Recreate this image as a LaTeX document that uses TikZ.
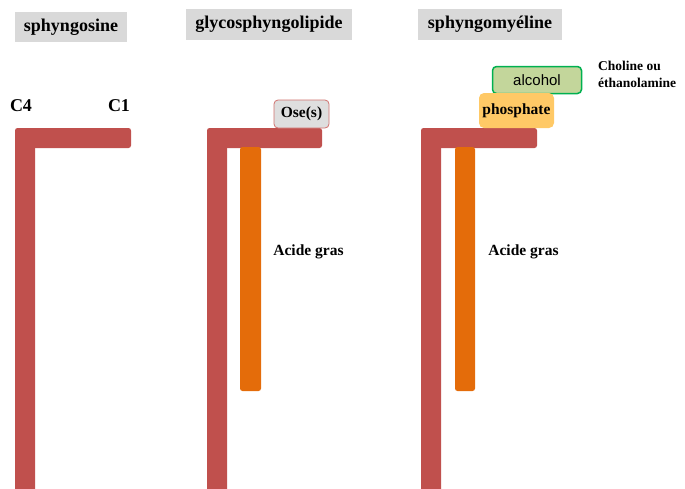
\documentclass[tikz,border=0pt]{standalone}
\usepackage{fontspec}
\setmainfont{Liberation Serif}
\newfontfamily\arialfont{Liberation Sans}
\definecolor{barred}{HTML}{C0504D}
\definecolor{barorange}{HTML}{E46C0A}
\definecolor{titlegray}{HTML}{D9D9D9}
\definecolor{osegray}{HTML}{DEDEDE}
\definecolor{oseborder}{HTML}{D0706D}
\definecolor{phosfill}{HTML}{FFC966}
\definecolor{alcfill}{HTML}{C3D69B}
\definecolor{alcborder}{HTML}{00B050}
\tikzset{
  titlebox/.style={fill=titlegray, inner sep=0pt, font=\fontsize{18}{20}\selectfont\bfseries},
  lbl/.style={inner sep=0pt, font=\fontsize{18}{20}\selectfont\bfseries},
  acid/.style={inner sep=0pt, font=\fontsize{15.5}{18}\selectfont\bfseries},
  redbar/.style={fill=barred, rounded corners=2.5pt},
  orangebar/.style={fill=barorange, rounded corners=2.5pt},
}
\begin{document}
\begin{tikzpicture}[x=1pt,y=-1pt]
\useasboundingbox (0,0) rectangle (685,488);
% titles
\node[titlebox, minimum width=112pt, minimum height=30pt] (t1) at (71,27) {sphyngosine};
\node[titlebox, minimum width=166pt, minimum height=31pt] (t2) at (269,24.5) {glycosphyngolipide};
\node[titlebox, minimum width=144pt, minimum height=31pt] (t3) at (490,24.5) {sphyngomyéline};
% L shapes
\fill[redbar] (15,128) rectangle (131,148);
\fill[redbar] (15,130) rectangle (35,495);
\fill[redbar] (207,128) rectangle (322,148);
\fill[redbar] (207,130) rectangle (227,495);
\fill[redbar] (421,128) rectangle (537,148);
\fill[redbar] (421,130) rectangle (441,495);
% orange bars
\fill[orangebar] (240,147) rectangle (261,391);
\fill[orangebar] (455,147) rectangle (475,391);
% labels
\node[lbl] (c4) at (21,106) {C4};
\node[lbl] (c1) at (119,106) {C1};
\node[draw=oseborder, fill=osegray, rounded corners=4pt, line width=0.8pt, minimum width=55pt, minimum height=28pt, inner sep=0pt, font=\fontsize{15.5}{18}\selectfont\bfseries] (ose) at (301.5,114) {Ose(s)};
\node[acid] (ag1) at (308.5,252) {Acide gras};
\node[acid] (ag2) at (523.5,252) {Acide gras};
\node[draw=alcborder, fill=alcfill, rounded corners=4pt, line width=1.5pt, minimum width=89pt, minimum height=27pt, inner sep=0pt, font=\fontsize{15}{18}\selectfont\arialfont] (alc) at (537,80) {alcohol};
\node[fill=phosfill, rounded corners=5pt, minimum width=75pt, minimum height=35pt, inner sep=0pt, font=\fontsize{15.5}{18}\selectfont\bfseries] (phos) at (516.5,110.5) {phosphate};
\node[anchor=west, align=left, inner sep=0pt, font=\fontsize{13.5}{17}\selectfont\bfseries] (chol) at (598,74.5) {Choline ou\\éthanolamine};
\end{tikzpicture}
\end{document}
